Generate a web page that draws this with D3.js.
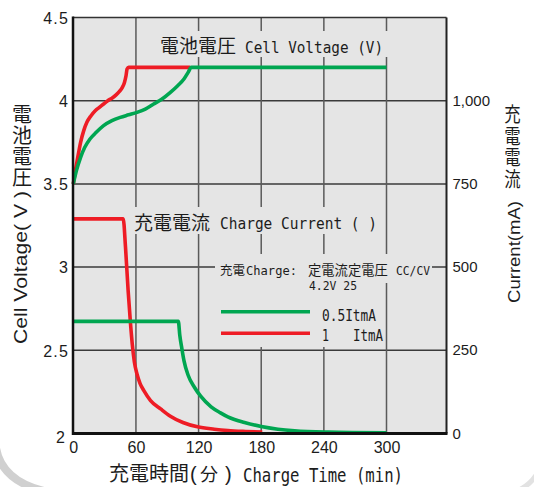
<!DOCTYPE html>
<html>
<head>
<meta charset="utf-8">
<script src="https://cdn.jsdelivr.net/npm/d3@7"></script>
<style>
  html, body { margin: 0; padding: 0; background: #fff; }
  svg { display: block; }
</style>
</head>
<body>
<svg id="chart" width="534" height="487"></svg>
<script>
// Tick values
const timeTicks = [0, 60, 120, 180, 240, 300];
const voltTicks = [2, 2.5, 3, 3.5, 4, 4.5];
const currentTicks = [0, 250, 500, 750, 1000];

// Cell voltage (V) vs charge time (min)
const voltTime1C = [0, 2, 4, 7, 10, 13, 17, 21, 25, 29, 33, 37, 41, 44, 47, 49, 50.5, 51.5, 53, 112];
const volt1C     = [3.5, 3.58, 3.65, 3.75, 3.82, 3.87, 3.91, 3.94, 3.96, 3.98, 4.0, 4.015, 4.035, 4.055, 4.08, 4.11, 4.15, 4.19, 4.2, 4.2];
const voltTimeHalfC = [0, 3, 7, 11, 16, 22, 29, 37, 45, 53, 61, 69, 77, 85, 93, 100, 106, 110, 113, 300];
const voltHalfC     = [3.5, 3.58, 3.66, 3.72, 3.77, 3.81, 3.85, 3.88, 3.90, 3.915, 3.93, 3.95, 3.98, 4.01, 4.05, 4.09, 4.13, 4.17, 4.2, 4.2];

// Charge current (mA) vs charge time (min)
const currTime1C = [0, 47.8, 50, 52.5, 54.8, 56.5, 58.5, 61, 64, 67.6, 74, 84, 93, 105, 119, 135, 148, 165, 181];
const curr1C     = [645, 645, 560, 430, 330, 268, 215, 179, 150, 129, 99, 73, 52, 33, 20, 13, 9, 6, 4];
const currTimeHalfC = [0, 100.6, 102, 104, 106, 110, 116, 122, 132, 141, 148, 164, 180, 196, 212, 244, 300];
const currHalfC     = [337, 337, 295, 255, 219, 175, 139, 112, 80, 62, 50, 33, 21, 13, 8, 4, 2];

const RED = "#ee1c25";
const GREEN = "#00a651";
const INK = "#1c1c1c";
const PLOT_BG = "#e5e5e5";
const CJK = "'Noto Sans CJK JP', 'Noto Sans CJK SC', sans-serif";
const SANS = "'Liberation Sans', Arial, sans-serif";
const MONO = "'DejaVu Sans Mono', monospace";

const svg = d3.select("#chart");

// Plot frame
const pL = 73, pR = 446.5, pT = 17.5, pB = 433.5;
const x = d3.scaleLinear().domain([0, 300]).range([73.3, 386.5]);
const yV = d3.scaleLinear().domain([2, 4.5]).range([pB, pT]);
const yI = d3.scaleLinear().domain([0, 1250]).range([pB, pT]);

// Corner shading of the card
svg.append("path")
  .attr("d", "M -4 448 Q 2 482 48 492")
  .attr("fill", "none").attr("stroke", "#c4c4c4").attr("stroke-width", 8).attr("opacity", 0.8);
svg.append("path")
  .attr("d", "M 540 468 Q 532 486 514 492")
  .attr("fill", "none").attr("stroke", "#e2e2e2").attr("stroke-width", 5);

svg.append("rect")
  .attr("x", pL).attr("y", pT)
  .attr("width", pR - pL).attr("height", pB - pT)
  .attr("fill", PLOT_BG);

// Grid
svg.append("g").selectAll("line")
  .data(voltTicks.filter(d => d > 2 && d < 4.5))
  .join("line")
  .attr("x1", pL).attr("x2", pR)
  .attr("y1", d => yV(d)).attr("y2", d => yV(d))
  .attr("stroke", "#3a3a3a").attr("stroke-width", 1.5);

svg.append("g").selectAll("line")
  .data(timeTicks.filter(d => d > 0))
  .join("line")
  .attr("x1", d => x(d)).attr("x2", d => x(d))
  .attr("y1", pT).attr("y2", pB)
  .attr("stroke", "#5a5a5a").attr("stroke-width", 1.5);

// Label backing patches (hide the grid behind text)
const patches = [
  [155, 31, 235, 26],
  [130, 207, 252, 27],
  [215, 254, 217, 29],
  [215, 254, 169, 93]
];
svg.append("g").selectAll("rect")
  .data(patches)
  .join("rect")
  .attr("x", d => d[0]).attr("y", d => d[1])
  .attr("width", d => d[2]).attr("height", d => d[3])
  .attr("fill", PLOT_BG);

// Curves
const lineV = (ts, vs) => d3.line().curve(d3.curveMonotoneX)
  .x((d, i) => x(ts[i])).y(d => yV(d))(vs);
const lineI = (ts, is) => d3.line().curve(d3.curveMonotoneX)
  .x((d, i) => x(ts[i])).y(d => yI(d))(is);

const curves = svg.append("g").attr("fill", "none").attr("stroke-width", 3.6)
  .attr("stroke-linejoin", "round");
curves.append("path").attr("d", lineI(currTime1C, curr1C)).attr("stroke", RED);
curves.append("path").attr("d", lineI(currTimeHalfC, currHalfC)).attr("stroke", GREEN);
curves.append("path").attr("d", lineV(voltTime1C, volt1C)).attr("stroke", RED);
curves.append("path").attr("d", lineV(voltTimeHalfC, voltHalfC)).attr("stroke", GREEN);

// Frame lines
svg.append("line").attr("x1", pL).attr("x2", pR).attr("y1", pT).attr("y2", pT)
  .attr("stroke", "#333").attr("stroke-width", 1.5);
svg.append("line").attr("x1", pR).attr("x2", pR).attr("y1", pT).attr("y2", pB)
  .attr("stroke", "#222").attr("stroke-width", 2);
svg.append("line").attr("x1", pL).attr("x2", pL).attr("y1", pT - 1).attr("y2", pB + 1.5)
  .attr("stroke", "#111").attr("stroke-width", 2.5);
svg.append("line").attr("x1", pL - 1).attr("x2", pR + 1).attr("y1", pB).attr("y2", pB)
  .attr("stroke", "#111").attr("stroke-width", 3);

// Axes (labels only)
const axL = svg.append("g").attr("transform", `translate(${pL},0)`)
  .call(d3.axisLeft(yV).tickValues(voltTicks).tickSize(0).tickPadding(4).tickFormat(d3.format("")));
axL.select(".domain").remove();
axL.selectAll("text")
  .attr("font-family", SANS).attr("font-size", 16).attr("fill", INK)
  .attr("letter-spacing", 1.2).attr("dy", "0.36em");
axL.selectAll(".tick").filter(d => d === 2).select("text").attr("dy", "0.56em").attr("x", -7);

const axB = svg.append("g").attr("transform", `translate(0,${pB})`)
  .call(d3.axisBottom(x).tickValues(timeTicks).tickSize(0).tickPadding(8).tickFormat(d3.format("")));
axB.select(".domain").remove();
axB.selectAll("text")
  .attr("font-family", SANS).attr("font-size", 16).attr("fill", INK);

const axR = svg.append("g").attr("transform", `translate(${pR},0)`)
  .call(d3.axisRight(yI).tickValues(currentTicks).tickSize(0).tickPadding(6).tickFormat(d3.format(",")));
axR.select(".domain").remove();
axR.selectAll("text")
  .attr("font-family", SANS).attr("font-size", 15).attr("fill", INK).attr("dy", "0.3em");

// Text helper
function txt(str, px, py, family, size, extra = {}) {
  const t = svg.append("text")
    .attr("x", px).attr("y", py)
    .attr("font-family", family).attr("font-size", size)
    .attr("fill", INK).text(str);
  Object.entries(extra).forEach(([k, v]) => t.attr(k, v));
  return t;
}

// Titles inside the plot
txt("電池電圧", 160, 53, CJK, 19);
txt("Cell Voltage (V)", 245, 53, MONO, 16, { textLength: 138, lengthAdjust: "spacingAndGlyphs" });

txt("充電電流", 134, 229.5, CJK, 19);
txt("Charge Current (   )", 220, 229, MONO, 16, { textLength: 157, lengthAdjust: "spacingAndGlyphs" });

txt("充電", 220, 274.5, CJK, 12.5);
txt("Charge:", 246, 274.5, MONO, 12.5, { textLength: 51, lengthAdjust: "spacingAndGlyphs" });
txt("定電流定電圧", 308, 274.5, CJK, 13.3);
txt("CC/CV", 396, 274.5, MONO, 12.5, { textLength: 34, lengthAdjust: "spacingAndGlyphs" });
txt("4.2V 25", 309, 290, MONO, 12, { textLength: 48, lengthAdjust: "spacingAndGlyphs" });

// Legend
const legend = [
  { label: "0.5ItmA", color: GREEN, y: 311.7 },
  { label: "1", color: RED, y: 333.3 }
];
svg.append("g").selectAll("line")
  .data(legend)
  .join("line")
  .attr("x1", 221).attr("x2", 310)
  .attr("y1", d => d.y).attr("y2", d => d.y)
  .attr("stroke", d => d.color).attr("stroke-width", 3.6);
txt("0.5ItmA", 322, 320.5, MONO, 15, { textLength: 54, lengthAdjust: "spacingAndGlyphs" });
txt("1", 322, 340.5, MONO, 15, { textLength: 7, lengthAdjust: "spacingAndGlyphs" });
txt("ItmA", 353, 340.5, MONO, 15, { textLength: 30, lengthAdjust: "spacingAndGlyphs" });

// X axis title
const xt = svg.append("text").attr("y", 481).attr("fill", INK);
xt.append("tspan").attr("x", 109).attr("font-family", CJK).attr("font-size", 20).text("充電時間");
xt.append("tspan").attr("x", 190).attr("font-family", SANS).attr("font-size", 20).text("(");
xt.append("tspan").attr("x", 200).attr("font-family", CJK).attr("font-size", 18).text("分");
xt.append("tspan").attr("x", 225).attr("font-family", SANS).attr("font-size", 20).text(")");
txt("Charge Time (min)", 243, 482, MONO, 19, { textLength: 160, lengthAdjust: "spacingAndGlyphs" });

// Left Y title: upright CJK set vertically, then rotated Latin
svg.append("text")
  .attr("x", 22).attr("y", 104)
  .style("writing-mode", "vertical-rl")
  .style("text-orientation", "upright")
  .attr("letter-spacing", 1)
  .attr("font-family", CJK).attr("font-size", 20).attr("fill", INK)
  .text("電池電圧");
svg.append("text")
  .attr("transform", "translate(27,344) rotate(-90)")
  .attr("font-family", SANS).attr("font-size", 19).attr("fill", INK)
  .attr("textLength", 153).attr("lengthAdjust", "spacingAndGlyphs")
  .text("Cell Voltage( V )");

// Right Y title
svg.append("text")
  .attr("transform", "translate(512.5,0) scale(0.82,1)")
  .attr("x", 0).attr("y", 104.5)
  .style("writing-mode", "vertical-rl")
  .style("text-orientation", "upright")
  .attr("letter-spacing", 1.7)
  .attr("font-family", CJK).attr("font-size", 20).attr("fill", INK)
  .text("充電電流");
svg.append("text")
  .attr("transform", "translate(520,303) rotate(-90)")
  .attr("font-family", SANS).attr("font-size", 16).attr("fill", INK)
  .attr("textLength", 102).attr("lengthAdjust", "spacingAndGlyphs")
  .text("Current(mA)");
</script>
</body>
</html>
